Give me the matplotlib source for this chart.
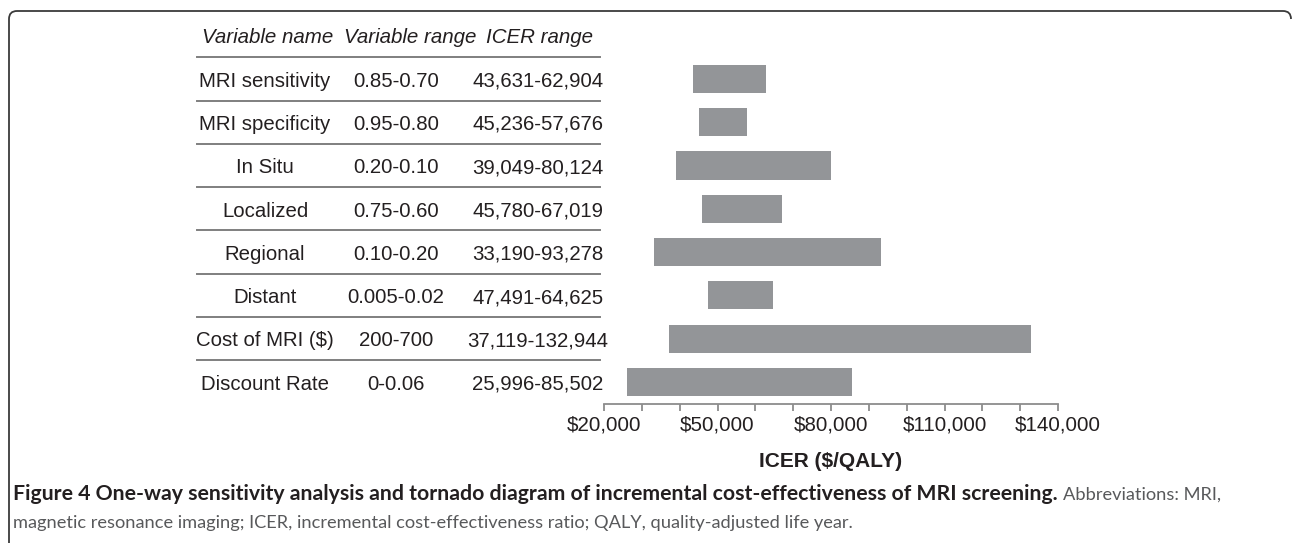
import matplotlib
matplotlib.use("Agg")
import matplotlib.pyplot as plt
import matplotlib.transforms as mtransforms
from matplotlib.lines import Line2D
from matplotlib.path import Path
from matplotlib.patches import PathPatch
from matplotlib import font_manager

# ---------------- data ----------------
variables = ["MRI sensitivity", "MRI specificity", "In Situ", "Localized",
             "Regional", "Distant", "Cost of MRI ($)", "Discount Rate"]
var_ranges = ["0.85-0.70", "0.95-0.80", "0.20-0.10", "0.75-0.60",
              "0.10-0.20", "0.005-0.02", "200-700", "0-0.06"]
icer_labels = ["43,631-62,904", "45,236-57,676", "39,049-80,124", "45,780-67,019",
               "33,190-93,278", "47,491-64,625", "37,119-132,944", "25,996-85,502"]
icer_low = [43631, 45236, 39049, 45780, 33190, 47491, 37119, 25996]
icer_high = [62904, 57676, 80124, 67019, 93278, 64625, 132944, 85502]
headers = ["Variable name", "Variable range", "ICER range"]
xticks = [20000, 50000, 80000, 110000, 140000]
xtick_labels = ["$20,000", "$50,000", "$80,000", "$110,000", "$140,000"]
minor_ticks = [30000, 40000, 60000, 70000, 90000, 100000, 120000, 130000]
xlabel = "ICER ($/QALY)"
caption_bold = ("Figure 4 One-way sensitivity analysis and tornado diagram of "
                "incremental cost-effectiveness of MRI screening.")
caption_reg1 = "Abbreviations: MRI,"
caption_reg2 = ("magnetic resonance imaging; ICER, incremental cost-effectiveness "
                "ratio; QALY, quality-adjusted life year.")

W, H = 1292, 543
names = {f.name for f in font_manager.fontManager.ttflist}
table_font = "Liberation Sans"
cap_font = "Lato" if "Lato" in names else "DejaVu Sans"

fig = plt.figure(figsize=(W / 100, H / 100), dpi=100)

def fx(px):
    return px / W

def fy(py):
    return 1 - py / H

# ---------------- bars ----------------
ax = fig.add_axes([fx(604), fy(404), 454 / W, 351 / H])
ypos = list(range(len(variables)))
widths = [h - l for l, h in zip(icer_low, icer_high)]
ax.barh(ypos, widths, left=icer_low, height=0.65, color="#939598")
ax.set_xlim(20000, 140000)
ax.set_ylim(7.508, -0.6)
for s in ["top", "right", "left"]:
    ax.spines[s].set_visible(False)
ax.spines["bottom"].set_color("#8c8c8c")
ax.spines["bottom"].set_linewidth(1.3)
ax.set_yticks([])
ax.set_xticks(xticks)
ax.set_xticklabels(xtick_labels, fontsize=14.8, family=table_font, color="#231f20")
ax.set_xticks(minor_ticks, minor=True)
ax.tick_params(axis="x", which="both", direction="out", length=5, width=1.3,
               color="#8c8c8c", pad=3)
ax.set_xlabel(xlabel, fontsize=15, fontweight="bold", family=table_font,
              color="#231f20", labelpad=13)

# ---------------- table ----------------
trans = mtransforms.blended_transform_factory(fig.transFigure, ax.transData)
head_x = [fx(268), fx(410), fx(540)]
col_x = [fx(265), fx(396), fx(538)]
for cx, htxt in zip(head_x, headers):
    ax.text(cx, -0.95, htxt, transform=trans, ha="center", va="center",
            fontsize=14.8, style="italic", family=table_font, color="#231f20",
            clip_on=False)
for i in range(len(variables)):
    for cx, txt in zip(col_x, [variables[i], var_ranges[i], icer_labels[i]]):
        ax.text(cx, i + 0.05, txt, transform=trans, ha="center", va="center",
                fontsize=14.7, family=table_font, color="#231f20", clip_on=False)
for k in range(len(variables)):
    yl = k - 0.5
    fig.add_artist(Line2D([fx(197), fx(600)], [yl, yl], transform=trans,
                          color="#7f7f7f", lw=1.4))

# ---------------- border ----------------
verts = [(9, H + 3), (9, 19), (9, 11), (17, 11), (1283, 11), (1291, 11), (1291, 19)]
codes = [Path.MOVETO, Path.LINETO, Path.CURVE3, Path.CURVE3, Path.LINETO,
         Path.CURVE3, Path.CURVE3]
path = Path([(fx(x), fy(y)) for x, y in verts], codes)
fig.add_artist(PathPatch(path, transform=fig.transFigure, fill=False,
                         edgecolor="#3a3a3a", lw=1.3))

# ---------------- caption ----------------
renderer = fig.canvas.get_renderer()
x0 = 13
bold_target = 1098 - x0
reg2_target = 815 - x0
fsb, fsr = 12.0, 12.0
t1 = fig.text(fx(x0), fy(500), caption_bold, fontsize=fsb, fontweight="bold",
              family=cap_font, color="#231f20", va="baseline")
t2 = fig.text(0, fy(500), caption_reg1, fontsize=fsr, family=cap_font,
              color="#58595b", va="baseline")
t3 = fig.text(fx(x0), fy(528), caption_reg2, fontsize=fsr, family=cap_font,
              color="#58595b", va="baseline")
for _ in range(2):
    fsb *= bold_target / t1.get_window_extent(renderer).width
    fsr *= reg2_target / t3.get_window_extent(renderer).width
    t1.set_fontsize(fsb)
    t2.set_fontsize(fsr)
    t3.set_fontsize(fsr)
# small compromise so both caption weights look the same height
fsb *= 0.97
fsr *= 1.05
t1.set_fontsize(fsb)
t2.set_fontsize(fsr)
t3.set_fontsize(fsr)
w1 = t1.get_window_extent(renderer).width
gap = 0.3 * fsr * 100 / 72
t2.set_x(fx(x0 + w1 + gap))

fig.savefig("out.png", dpi=100)
